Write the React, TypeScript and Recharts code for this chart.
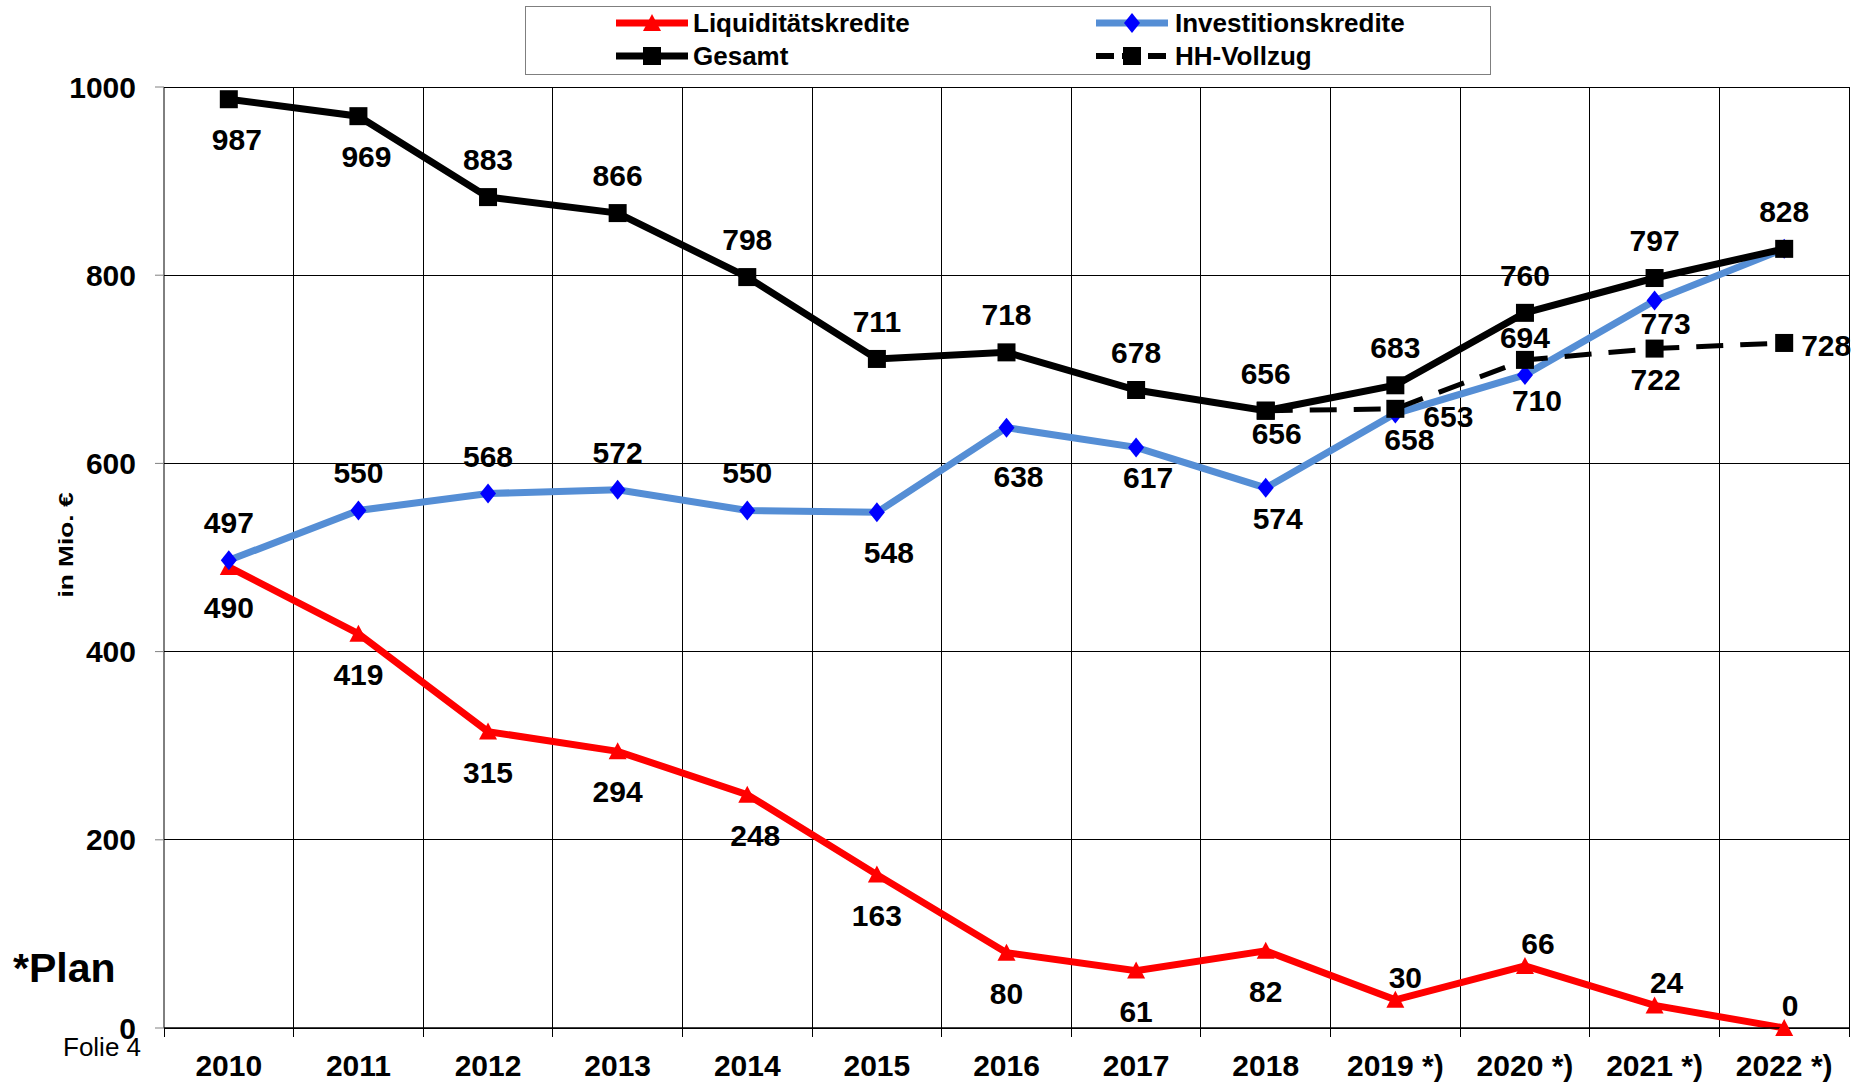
import React from 'react';
import { LineChart, Line, XAxis, YAxis, CartesianGrid, ReferenceLine } from 'recharts';

const FONT = "'Liberation Sans', Arial, Helvetica, sans-serif";

// ---------- data ----------
const years = ['2010', '2011', '2012', '2013', '2014', '2015', '2016', '2017', '2018', '2019 *)', '2020 *)', '2021 *)', '2022 *)'];
const liquiditaetskredite = [490, 419, 315, 294, 248, 163, 80, 61, 82, 30, 66, 24, 0];
const investitionskredite = [497, 550, 568, 572, 550, 548, 638, 617, 574, 653, 694, 773, 828];
const gesamt = [987, 969, 883, 866, 798, 711, 718, 678, 656, 683, 760, 797, 828];
const hhVollzug: (number | null)[] = [null, null, null, null, null, null, null, null, 656, 658, 710, 722, 728];
const yTicks = [0, 200, 400, 600, 800, 1000];

const data = years.map((year, i) => ({
  idx: i,
  year,
  liq: liquiditaetskredite[i],
  inv: investitionskredite[i],
  ges: gesamt[i],
  hh: hhVollzug[i],
}));
const xTicks = years.map((_, i) => i);
const xBounds = [...years.map((_, i) => i + 0.5)];
const allBounds = [-0.5, ...xBounds];
const TICK_DEPTH = 10; // in axis units, length of category separator ticks below the axis

// ---------- label placement (style) ----------
// t: above, tn: near above, b: below, bm: medium below, bn: near below, bf: far below, r: right, n: none
type Place = 't' | 'tn' | 'b' | 'bm' | 'bn' | 'bf' | 'r' | 'n';
const gesPlace: [Place, number][] = [['b', 8], ['b', 8], ['t', 0], ['t', 0], ['t', 0], ['t', 0], ['t', 0], ['t', 0], ['t', 0], ['t', 0], ['t', 0], ['t', 0], ['t', 0]];
const invPlace: [Place, number][] = [['t', 0], ['t', 0], ['t', 0], ['t', 0], ['t', 0], ['b', 12], ['bf', 12], ['bm', 12], ['bm', 12], ['r', 28], ['t', 0], ['bn', 11], ['n', 0]];
const liqPlace: [Place, number][] = [['b', 0], ['b', 0], ['b', 0], ['b', 0], ['b', 8], ['b', 0], ['b', 0], ['b', 0], ['b', 0], ['tn', 10], ['tn', 13], ['tn', 12], ['tn', 6]];
const hhPlace: [Place, number][] = [['n', 0], ['n', 0], ['n', 0], ['n', 0], ['n', 0], ['n', 0], ['n', 0], ['n', 0], ['bn', 11], ['bm', 14], ['b', 12], ['bm', 1], ['r', 17]];

const baselineOffset: Record<Place, number> = { t: -27, tn: -12, b: 51, bm: 41, bn: 33, bf: 59, r: 13, n: 0 };

const RED = '#FF0000';
const LIGHTBLUE = '#558ED5';
const BLUE = '#0000FF';

// ---------- markers ----------
const triangleDot = (props: any) => {
  const { cx, cy, index } = props;
  if (cx == null || cy == null) return <g key={`tri-${index}`} />;
  return <path key={`tri-${index}`} d={`M${cx},${cy - 9} L${cx + 9},${cy + 8} L${cx - 9},${cy + 8} Z`} fill={RED} />;
};
const diamondDot = (props: any) => {
  const { cx, cy, index } = props;
  if (cx == null || cy == null) return <g key={`dia-${index}`} />;
  return <path key={`dia-${index}`} d={`M${cx},${cy - 10} L${cx + 8},${cy} L${cx},${cy + 10} L${cx - 8},${cy} Z`} fill={BLUE} />;
};
const squareDot = (props: any) => {
  const { cx, cy, index, payload, dataKey } = props;
  if (cx == null || cy == null || (payload && dataKey && payload[dataKey] == null)) return <g key={`sq-${index}`} />;
  return <rect key={`sq-${index}`} x={cx - 9} y={cy - 9} width={18} height={18} fill="#000" />;
};

const makeLabel = (key: string, places: [Place, number][]) => (props: any) => {
  const { cx, cy, index, payload } = props;
  const v = payload ? payload[key] : null;
  const [p, dx] = places[index] || ['n', 0];
  if (cx == null || cy == null || v == null || p === 'n') return <g key={`lb-${key}-${index}`} />;
  const isRight = p === 'r';
  return (
    <text
      key={`lb-${key}-${index}`}
      x={cx + dx}
      y={cy + baselineOffset[p]}
      textAnchor={isRight ? 'start' : 'middle'}
      fontFamily={FONT}
      fontWeight="bold"
      fontSize={30}
      fill="#000"
    >
      {v}
    </text>
  );
};

// ---------- legend ----------
const Legend = () => {
  const rows = [23, 56];
  const col1 = 616;
  const col2 = 1096;
  const len = 72;
  const textStyle = { fontFamily: FONT, fontWeight: 'bold' as const, fontSize: 26, fill: '#000' };
  return (
    <g>
      <rect x={525.5} y={6.5} width={965} height={68} fill="#fff" stroke="#7f7f7f" strokeWidth={1} />
      <line x1={col1} x2={col1 + len} y1={rows[0]} y2={rows[0]} stroke={RED} strokeWidth={7} />
      <path d={`M${col1 + 36},${rows[0] - 9} L${col1 + 45},${rows[0] + 8} L${col1 + 27},${rows[0] + 8} Z`} fill={RED} />
      <text x={693} y={rows[0] + 9} {...textStyle}>Liquiditätskredite</text>
      <line x1={col2} x2={col2 + len} y1={rows[0]} y2={rows[0]} stroke={LIGHTBLUE} strokeWidth={7} />
      <path d={`M${col2 + 36},${rows[0] - 10} L${col2 + 44},${rows[0]} L${col2 + 36},${rows[0] + 10} L${col2 + 28},${rows[0]} Z`} fill={BLUE} />
      <text x={1175} y={rows[0] + 9} {...textStyle}>Investitionskredite</text>
      <line x1={col1} x2={col1 + len} y1={rows[1]} y2={rows[1]} stroke="#000" strokeWidth={7} />
      <rect x={col1 + 27} y={rows[1] - 9} width={18} height={18} fill="#000" />
      <text x={693} y={rows[1] + 9} {...textStyle}>Gesamt</text>
      <line x1={col2} x2={col2 + len} y1={rows[1]} y2={rows[1]} stroke="#000" strokeWidth={6} strokeDasharray="18 8" />
      <rect x={col2 + 27} y={rows[1] - 9} width={18} height={18} fill="#000" />
      <text x={1175} y={rows[1] + 9} {...textStyle}>HH-Vollzug</text>
    </g>
  );
};

export default function App() {
  return (
    <div style={{ position: 'absolute', left: 0, top: 0, width: 1872, height: 1084, background: '#fff' }}>
      <LineChart width={1872} height={1084} data={data} margin={{ top: 87, right: 23, left: 0, bottom: 0 }}>
        <XAxis
          type="number"
          dataKey="idx"
          domain={[-0.5, years.length - 0.5]}
          ticks={xTicks}
          interval={0}
          height={56}
          tickFormatter={(v: number) => years[v]}
          tickLine={false}
          tickSize={9}
          tickMargin={18}
          axisLine={{ stroke: '#000', strokeWidth: 1.5 }}
          tick={{ fill: '#000', fontSize: 30, fontWeight: 'bold', fontFamily: FONT }}
        />
        <YAxis
          type="number"
          domain={[0, 1000]}
          ticks={yTicks}
          interval={0}
          width={164}
          tickSize={9}
          tickMargin={19}
          axisLine={{ stroke: '#000', strokeWidth: 1 }}
          tickLine={{ stroke: '#808080' }}
          tick={{ fill: '#000', fontSize: 30, fontWeight: 'bold', fontFamily: FONT }}
        />
        <CartesianGrid vertical={false} stroke="#000" strokeWidth={1} shapeRendering="crispEdges" />
        {xBounds.map((b) => (
          <ReferenceLine key={`vg-${b}`} x={b} stroke="#000" strokeWidth={1} shapeRendering="crispEdges" />
        ))}
        {allBounds.map((b) => (
          <ReferenceLine
            key={`vt-${b}`}
            segment={[{ x: b, y: 0 }, { x: b, y: -TICK_DEPTH }]}
            ifOverflow="visible"
            stroke="#000"
            strokeWidth={1}
            shapeRendering="crispEdges"
          />
        ))}
        <Line dataKey="liq" stroke={RED} strokeWidth={7} dot={triangleDot} activeDot={false} isAnimationActive={false} strokeLinejoin="miter" />
        <Line dataKey="inv" stroke={LIGHTBLUE} strokeWidth={7} dot={diamondDot} activeDot={false} isAnimationActive={false} strokeLinejoin="miter" />
        <Line dataKey="ges" stroke="#000" strokeWidth={7} dot={squareDot} activeDot={false} isAnimationActive={false} strokeLinejoin="miter" />
        <Line dataKey="hh" stroke="#000" strokeWidth={5} strokeDasharray="27 17" dot={squareDot} activeDot={false} isAnimationActive={false} connectNulls={false} />
        <Line dataKey="liq" stroke="none" dot={makeLabel('liq', liqPlace)} activeDot={false} isAnimationActive={false} legendType="none" />
        <Line dataKey="inv" stroke="none" dot={makeLabel('inv', invPlace)} activeDot={false} isAnimationActive={false} legendType="none" />
        <Line dataKey="ges" stroke="none" dot={makeLabel('ges', gesPlace)} activeDot={false} isAnimationActive={false} legendType="none" />
        <Line dataKey="hh" stroke="none" dot={makeLabel('hh', hhPlace)} activeDot={false} isAnimationActive={false} legendType="none" />
      </LineChart>
      <svg width={1872} height={1084} style={{ position: 'absolute', left: 0, top: 0, pointerEvents: 'none' }}>
        <Legend />
        <text x={13} y={982} fontFamily={FONT} fontWeight="bold" fontSize={41} fill="#000">*Plan</text>
        <text x={63} y={1056} fontFamily={FONT} fontSize={26} fill="#000">Folie 4</text>
        <text
          transform="translate(73,545) rotate(-90)"
          textAnchor="middle"
          fontFamily={FONT}
          fontWeight="bold"
          fontSize={21}
          textLength={105}
          lengthAdjust="spacingAndGlyphs"
          fill="#000"
        >
          in Mio. €
        </text>
      </svg>
    </div>
  );
}
